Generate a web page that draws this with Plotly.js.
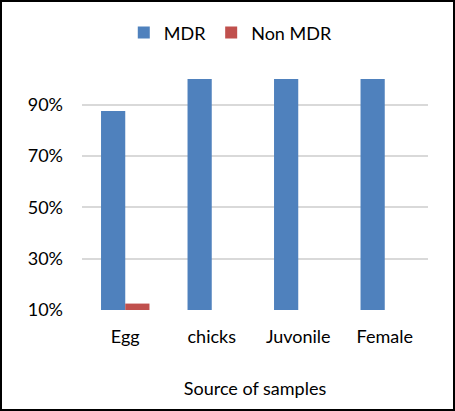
<!DOCTYPE html>
<html>
<head>
<meta charset="utf-8">
<script src="https://cdn.plot.ly/plotly-3.0.1.min.js"></script>
<style>
html,body{margin:0;padding:0;background:#fff;}
#chart{width:455px;height:411px;}
#frame{position:absolute;left:0;top:0;width:455px;height:411px;box-sizing:border-box;border:2px solid #000;pointer-events:none;z-index:10;}
</style>
</head>
<body>
<div id="chart"></div>
<div id="frame"></div>
<script>
var categories = ["Egg", "chicks", "Juvonile", "Female"];
var mdrValues = [0.875, 1.0, 1.0, 1.0];
var nonMdrValues = [0.125, 0.0, 0.0, 0.0];
var yTickValues = [0.1, 0.3, 0.5, 0.7, 0.9];
var yTickLabels = ["10%", "30%", "50%", "70%", "90%"];

var font = {family: "Lato, 'Open Sans', sans-serif", size: 18, color: "#000"};

var data = [
  {type: "bar", name: "MDR", x: categories, y: mdrValues,
   marker: {color: "#4f81bd"}, hoverinfo: "none"},
  {type: "bar", name: "Non MDR", x: categories, y: nonMdrValues,
   marker: {color: "#c0504d"}, hoverinfo: "none"}
];

var layout = {
  width: 455, height: 411, autosize: false,
  paper_bgcolor: "#fff", plot_bgcolor: "#fff",
  font: font,
  margin: {l: 82, r: 27, t: 79, b: 101},
  barmode: "group",
  bargap: 0.44,
  bargroupgap: 0,
  showlegend: true,
  legend: {orientation: "h", x: 0.43, xanchor: "center", y: 1.2, yanchor: "middle", font: font},
  xaxis: {
    showgrid: false, zeroline: false, showline: false, ticks: "",
    tickfont: font, ticklabelstandoff: 14, tickangle: 0, automargin: false,
    title: {text: "Source of samples", font: font, standoff: 36}
  },
  yaxis: {
    range: [0.1, 1.0], tickvals: yTickValues, ticktext: yTickLabels,
    showgrid: true, gridcolor: "#d9d9d9", gridwidth: 2,
    zeroline: false, showline: false, ticks: "", automargin: false,
    tickfont: font, ticklabelstandoff: 18
  }
};

Plotly.newPlot("chart", data, layout, {displayModeBar: false, staticPlot: true});
</script>
</body>
</html>
